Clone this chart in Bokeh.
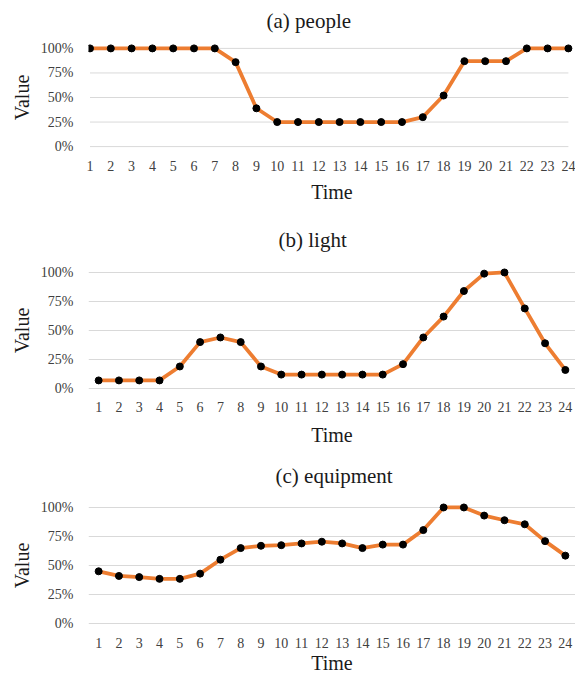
from bokeh.plotting import figure
from bokeh.models import Range1d, FixedTicker, PrintfTickFormatter, Title
from bokeh.layouts import column
from bokeh.embed import file_html
from bokeh.resources import INLINE

# ---- data ----
hours = list(range(1, 25))
people = [100, 100, 100, 100, 100, 100, 100, 86, 39, 25, 25, 25,
          25, 25, 25, 25, 30, 52, 87, 87, 87, 100, 100, 100]
light = [7, 7, 7, 7, 19, 40, 44, 40, 19, 12, 12, 12,
         12, 12, 12, 21, 44, 62, 84, 99, 100, 69, 39, 16]
equipment = [45, 41, 40, 38.5, 38.5, 43, 55, 65, 67, 67.5, 69, 70.5,
             69, 65, 68, 68, 80.5, 100, 100, 93, 89, 85.5, 71, 58.5]
y_ticks = [0, 25, 50, 75, 100]
titles = ["(a) people", "(b) light", "(c) equipment"]
x_label = "Time"
y_label = "Value"

FONT = "Liberation Serif"
ORANGE = "#ED7D31"
GRID = "#d9d9d9"
W = 575
LEFT = 88


def make_panel(title, values, height, top, bottom, band, title_offset,
               title_standoff, tick_standoff, label_standoff):
    p = figure(width=W, height=height, output_backend="svg",
               toolbar_location=None, min_border_left=LEFT, min_border_right=0,
               min_border_top=top, min_border_bottom=bottom)
    if band:
        p.x_range = Range1d(hours[0] - 0.5, hours[-1] + 0.5)
    else:
        # points on the tick marks: first point just inside the frame
        unit = 20.8
        start = hours[0] - 1.5 / unit
        p.x_range = Range1d(start, start + (W - LEFT) / unit)
    p.y_range = Range1d(-6, 106)

    p.xgrid.grid_line_color = None
    if band:
        p.ygrid.ticker = FixedTicker(ticks=y_ticks)
        p.ygrid.grid_line_color = GRID
        p.ygrid.grid_line_width = 1
    else:
        p.ygrid.grid_line_color = None
        p.segment(x0=[hours[0]] * len(y_ticks), x1=[hours[-1]] * len(y_ticks),
                  y0=y_ticks, y1=y_ticks, line_color=GRID, line_width=1)

    p.line(hours, values, line_color=ORANGE, line_width=3.75, line_join="round")
    p.scatter(hours, values, size=7, fill_color="black", line_color="black")

    p.add_layout(Title(text=title, align="left", offset=title_offset,
                       vertical_align="top",
                       text_font=FONT, text_font_size="21px",
                       text_font_style="normal", text_color="#1a1a1a",
                       standoff=title_standoff), "above")

    p.xaxis.ticker = FixedTicker(ticks=hours)
    p.yaxis.ticker = FixedTicker(ticks=y_ticks)
    p.yaxis.formatter = PrintfTickFormatter(format="%d%%")
    p.xaxis.axis_label = x_label
    p.yaxis.axis_label = y_label

    for ax in (p.xaxis, p.yaxis):
        ax.axis_line_color = None
        ax.major_tick_line_color = None
        ax.minor_tick_line_color = None
        ax.major_tick_out = 0
        ax.major_tick_in = 0
        ax.major_label_text_font = FONT
        ax.major_label_text_font_size = "14px"
        ax.major_label_text_color = "#404040"
        ax.axis_label_text_font = FONT
        ax.axis_label_text_font_size = "20px"
        ax.axis_label_text_font_style = "normal"
        ax.axis_label_text_color = "#1a1a1a"
    p.xaxis.major_label_standoff = tick_standoff
    p.xaxis.axis_label_standoff = label_standoff
    p.yaxis.major_label_standoff = 15
    p.yaxis.axis_label_standoff = 5
    p.outline_line_color = None
    return p


pa = make_panel(titles[0], people, 214, 42, 62, False, 178, 16, 8, 7)
pb = make_panel(titles[1], light, 238, 51, 57, True, 190, 24, 6, 9)
pc = make_panel(titles[2], equipment, 225, 48, 47, True, 187, 22, 7, 1)

layout = column(pa, pb, pc)
open("out.html", "w").write(file_html(layout, INLINE))
